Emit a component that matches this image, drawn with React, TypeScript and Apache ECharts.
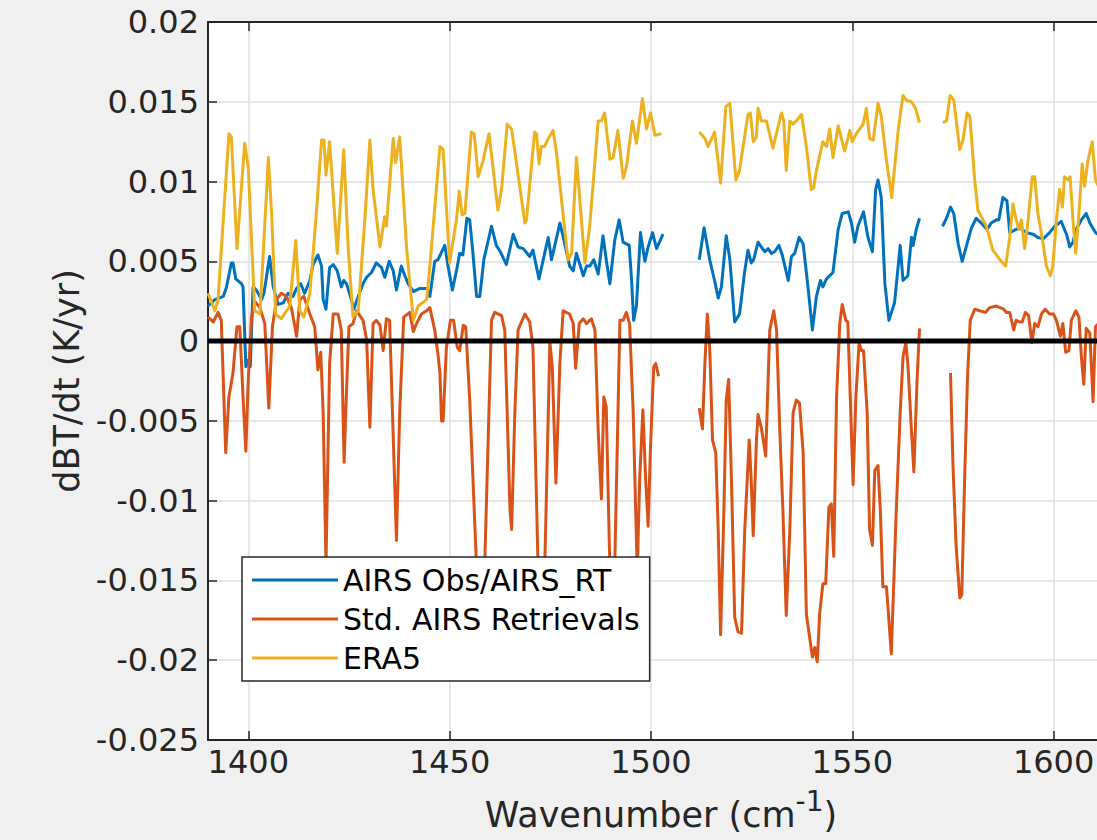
import React, { useEffect, useRef } from "react";
import * as echarts from "echarts";

// ---------- data (wavenumber in cm^-1, trend in K/yr); '-' marks a gap ----------
const obsWn = [
  1390.0, 1391.7, 1393.8, 1394.6, 1395.8, 1396.2, 1396.9, 1398.3, 1398.7, 1399.4, 1400.0, 1400.5,
  1401.2, 1402.0, 1403.3, 1403.9, 1405.3, 1406.2, 1407.4, 1408.7, 1409.9, 1411.1, 1412.0, 1413.0,
  1414.0, 1415.3, 1416.1, 1417.3, 1418.2, 1418.6, 1419.3, 1420.2, 1421.1, 1422.1, 1423.1, 1423.7,
  1424.4, 1425.6, 1426.2, 1427.3, 1428.5, 1429.4, 1430.6, 1431.8, 1433.1, 1433.9, 1435.0, 1436.0,
  1436.8, 1438.0, 1438.9, 1439.7, 1441.0, 1442.6, 1444.3, 1445.1, 1446.3, 1447.1, 1448.8, 1449.6,
  1450.7, 1451.7, 1452.5, 1453.3, 1454.3, 1455.0, 1455.8, 1456.7, 1457.5, 1458.5, 1460.4, 1461.6,
  1462.6, 1464.1, 1465.8, 1467.0, 1468.3, 1469.9, 1470.7, 1472.2, 1473.6, 1474.5, 1475.3, 1477.4,
  1478.6, 1479.8, 1480.7, 1481.5, 1483.2, 1484.0, 1484.8, 1485.8, 1486.9, 1488.1, 1488.9, 1489.8,
  1491.0, 1492.1, 1493.1, 1494.6, 1495.2, 1495.7, 1496.4, 1497.4, 1498.5, 1499.3, 1500.4, 1501.4,
  1503.0, 1507.0,
  1512.0, 1513.2, 1514.6, 1515.8, 1516.7, 1517.5, 1518.7, 1519.6, 1520.8, 1522.0, 1523.3, 1524.1,
  1524.9, 1525.5, 1526.6, 1527.4, 1528.3, 1529.1, 1529.9, 1530.7, 1531.8, 1532.6, 1534.1, 1534.9,
  1535.7, 1536.8, 1537.8, 1539.0, 1540.1, 1541.1, 1542.1, 1542.7, 1543.6, 1545.2, 1546.5, 1547.5,
  1549.0, 1549.8, 1550.6, 1551.4, 1552.8, 1553.9, 1555.0, 1555.8, 1556.4, 1557.2, 1558.1, 1559.1,
  1560.5, 1561.4, 1561.9, 1562.6, 1563.8, 1564.7, 1565.1, 1565.9, 1566.7, 1569.5,
  1572.4, 1573.4, 1574.4, 1575.2, 1576.3, 1577.3, 1578.5, 1579.6, 1580.8, 1582.0, 1583.5, 1584.5,
  1585.8, 1586.4, 1587.4, 1588.4, 1589.1, 1590.7, 1591.6, 1593.2, 1594.9, 1596.1, 1597.4, 1599.0,
  1600.3, 1601.9, 1603.2, 1604.0, 1604.8, 1605.6, 1606.9, 1608.1, 1609.0, 1610.4, 1611.5,
];
const obsVal: (number | string)[] = [
  0.0022, 0.0026, 0.0028, 0.0034, 0.0049, 0.0049, 0.0039, 0.0036, 0.0034, -0.0016, -0.0012, -0.0016,
  0.0034, 0.0032, 0.0026, 0.003, 0.0053, 0.0034, 0.0023, 0.0024, 0.003, 0.0028, 0.0033, 0.0036,
  0.003, 0.0038, 0.0048, 0.0054, 0.0047, 0.0026, 0.002, 0.0046, 0.0048, 0.0044, 0.0034, 0.0038,
  0.0036, 0.0026, 0.002, 0.0028, 0.0036, 0.004, 0.0043, 0.0049, 0.0046, 0.004, 0.005, 0.0044,
  0.0032, 0.0047, 0.0041, 0.0036, 0.0031, 0.0033, 0.0033, 0.0028, 0.005, 0.0051, 0.006, 0.0047,
  0.0032, 0.0044, 0.0055, 0.0054, 0.0077, 0.0076, 0.0055, 0.0028, 0.0028, 0.0051, 0.0072, 0.006,
  0.0056, 0.0048, 0.0067, 0.0059, 0.0058, 0.0053, 0.0057, 0.0039, 0.0055, 0.0065, 0.0051, 0.0074,
  0.0061, 0.0047, 0.0044, 0.0055, 0.0041, 0.0047, 0.0047, 0.0051, 0.0042, 0.0066, 0.0051, 0.0036,
  0.0063, 0.0076, 0.0062, 0.006, 0.0038, 0.0013, 0.0022, 0.0068, 0.005, 0.0059, 0.0068, 0.0058,
  0.0067, "-",
  0.0051, 0.0071, 0.0051, 0.0038, 0.0027, 0.0034, 0.0066, 0.0051, 0.0012, 0.0017, 0.0044, 0.0057,
  0.0049, 0.0051, 0.0062, 0.0059, 0.0056, 0.0058, 0.0055, 0.0056, 0.006, 0.0054, 0.0038, 0.0053,
  0.0055, 0.0065, 0.0061, 0.0034, 0.0007, 0.0028, 0.0038, 0.0034, 0.0039, 0.0043, 0.007, 0.008,
  0.0081, 0.0074, 0.0062, 0.0072, 0.0081, 0.0065, 0.0056, 0.0095, 0.0101, 0.009, 0.0036, 0.0013,
  0.0024, 0.0047, 0.006, 0.0038, 0.0041, 0.0065, 0.006, 0.007, 0.0077, "-",
  0.0072, 0.0077, 0.0084, 0.008, 0.0061, 0.005, 0.0061, 0.0071, 0.0077, 0.0074, 0.007, 0.0074,
  0.0076, 0.0076, 0.009, 0.0088, 0.0068, 0.007, 0.0071, 0.0068, 0.0067, 0.0065, 0.0064, 0.0068,
  0.0072, 0.0075, 0.0067, 0.0059, 0.0062, 0.007, 0.0076, 0.008, 0.0074, 0.0068, 0.0066,
];

const retWn = [
  1390.0, 1391.3, 1392.5, 1393.3, 1394.4, 1395.2, 1396.2, 1397.2, 1397.9, 1398.7, 1399.4, 1400.0,
  1400.8, 1401.6, 1402.9, 1404.1, 1405.1, 1406.0, 1407.0, 1408.2, 1409.5, 1410.7, 1412.0, 1412.8,
  1413.8, 1415.3, 1416.5, 1417.3, 1418.0, 1418.6, 1419.3, 1420.2, 1421.1, 1422.3, 1423.1, 1423.8,
  1424.4, 1425.0, 1426.0, 1426.9, 1428.5, 1429.4, 1430.2, 1431.0, 1431.8, 1432.7, 1433.5, 1434.3,
  1435.1, 1436.8, 1437.6, 1438.6, 1440.1, 1441.0, 1441.8, 1443.0, 1444.3, 1445.1, 1446.3, 1447.1,
  1447.6, 1448.0, 1448.4, 1449.2, 1450.2, 1451.0, 1451.9, 1452.5, 1453.4, 1454.0, 1455.0, 1456.7,
  1457.3, 1458.0, 1458.7, 1460.4, 1461.2, 1462.9, 1463.7, 1465.0, 1465.4, 1466.2, 1467.0, 1468.7,
  1469.9, 1470.7, 1472.0, 1472.6, 1473.1, 1473.6, 1474.9, 1475.5, 1476.4, 1477.4, 1478.2, 1479.8,
  1480.7, 1481.3, 1482.2, 1483.2, 1484.0, 1485.2, 1486.1, 1486.9, 1487.7, 1488.3, 1488.9, 1489.8,
  1490.3, 1490.6, 1491.0, 1492.3, 1493.1, 1493.9, 1494.7, 1495.6, 1496.6, 1497.2, 1498.0, 1498.7,
  1499.3, 1499.9, 1500.7, 1501.2, 1501.9, 1507.0,
  1512.0, 1512.8, 1513.4, 1514.0, 1514.6, 1515.3, 1516.1, 1516.7, 1517.3, 1518.1, 1518.7, 1519.3,
  1520.0, 1520.8, 1521.6, 1522.5, 1523.3, 1524.4, 1524.9, 1525.4, 1526.2, 1526.6, 1527.4, 1528.5,
  1529.5, 1530.5, 1531.2, 1532.0, 1532.8, 1533.6, 1534.5, 1535.3, 1536.1, 1536.9, 1537.8, 1538.6,
  1540.1, 1540.7, 1541.3, 1541.9, 1542.7, 1543.4, 1544.2, 1544.8, 1545.4, 1546.1, 1546.9, 1547.5,
  1548.4, 1548.9, 1549.5, 1550.2, 1550.9, 1551.7, 1552.3, 1552.8, 1553.7, 1554.3, 1555.0, 1555.6,
  1556.4, 1557.0, 1557.6, 1558.5, 1559.7, 1560.9, 1561.9, 1562.6, 1563.3, 1563.8, 1564.7, 1565.3,
  1566.1, 1566.7, 1570.0,
  1574.4, 1575.0, 1575.8, 1576.7, 1577.2, 1577.9, 1578.6, 1579.3, 1580.4, 1581.6, 1583.1, 1584.1,
  1585.8, 1587.6, 1588.3, 1589.1, 1590.1, 1590.7, 1591.6, 1592.2, 1593.0, 1593.8, 1594.6, 1595.3,
  1596.1, 1597.0, 1597.9, 1599.0, 1600.0, 1600.7, 1601.7, 1602.3, 1603.0, 1603.8, 1604.4, 1605.5,
  1606.3, 1606.9, 1607.5, 1608.1, 1609.0, 1609.8, 1610.4, 1611.5,
];
const retVal: (number | string)[] = [
  0.0015, 0.0012, 0.0018, 0.0013, -0.007, -0.0035, -0.002, 0.0009, 0.0009, -0.0035, -0.0069, -0.0024,
  0.0015, 0.0025, 0.0021, 0.0011, -0.0042, 0.0009, 0.0026, 0.003, 0.0028, 0.0021, 0.0003, 0.0026,
  0.0028, 0.0017, 0.0009, -0.0018, -0.0007, -0.0045, -0.014, -0.0014, 0.0017, 0.0017, 0.0007, -0.0076,
  -0.0031, 0.0009, 0.0011, 0.0019, 0.0013, 0.0001, -0.0054, 0.0011, 0.0013, 0.001, -0.0006, 0.0014,
  0.0013, -0.0125, -0.0045, 0.0015, 0.0018, 0.0006, 0.0011, 0.0017, 0.0019, 0.0021, 0.0007, -0.0008,
  -0.002, -0.005, -0.005, -0.0004, 0.0013, 0.0013, -0.0004, -0.0006, 0.001, 0.0009, -0.0037, -0.0142,
  -0.0185, -0.019, -0.0142, 0.0013, 0.0018, 0.0016, 0.0007, -0.0106, -0.0118, -0.0045, 0.0007, 0.0017,
  0.0012, -0.0004, -0.0145, -0.018, -0.018, -0.0145, -0.0001, -0.0016, -0.0089, -0.0013, 0.0019, 0.0017,
  0.0011, -0.0017, 0.0011, 0.0014, 0.0011, 0.0014, 0.0007, -0.0056, -0.0099, -0.0035, -0.0041, -0.0142,
  -0.0178, -0.018, -0.0142, 0.0013, 0.0013, 0.0018, 0.0011, -0.0045, -0.0145, -0.0087, -0.0043, -0.0087,
  -0.0116, -0.0066, -0.0016, -0.0014, -0.0022, "-",
  -0.0042, -0.0055, -0.0014, 0.0017, -0.0004, -0.0062, -0.007, -0.0118, -0.0184, -0.0108, -0.0037, -0.0024,
  -0.0087, -0.0173, -0.0182, -0.0183, -0.0118, -0.0062, -0.0087, -0.0122, -0.0062, -0.0046, -0.0054, -0.0072,
  0.0007, 0.0019, 0.0007, -0.0056, -0.0108, -0.0172, -0.0118, -0.0045, -0.0037, -0.0039, -0.007, -0.0171,
  -0.0198, -0.0192, -0.0201, -0.0171, -0.0152, -0.0152, -0.0104, -0.0102, -0.0135, -0.0035, 0.0011, 0.0023,
  0.0013, 0.0012, -0.0035, -0.009, -0.0035, -0.0001, -0.0006, -0.0006, -0.0045, -0.0118, -0.0128, -0.0081,
  -0.0078, -0.0108, -0.0154, -0.0154, -0.0196, -0.0108, -0.0045, -0.001, -0.0001, -0.0014, -0.0056, -0.0082,
  -0.0024, 0.0008, "-",
  -0.002, -0.0077, -0.0129, -0.0161, -0.0159, -0.0087, -0.0024, 0.0013, 0.002, 0.0019, 0.0018, 0.0021,
  0.0022, 0.002, 0.0018, 0.0018, 0.0007, 0.0013, 0.0012, 0.0012, 0.0018, 0.0016, -0.0001, 0.0011,
  0.0009, 0.0017, 0.002, 0.0017, 0.0017, 0.0013, 0.0003, 0.0011, -0.0007, -0.0006, 0.0013, 0.0019,
  0.0015, -0.001, -0.0027, 0.0008, 0.0005, -0.0038, 0.0009, 0.0012,
];

const eraWn = [
  1390.0, 1391.7, 1392.5, 1395.2, 1395.8, 1397.2, 1399.1, 1400.0, 1401.6, 1402.9, 1405.0, 1405.8,
  1406.8, 1408.2, 1410.3, 1411.8, 1412.8, 1413.8, 1415.3, 1416.9, 1418.2, 1418.8, 1419.3, 1420.2,
  1422.1, 1423.7, 1424.8, 1426.0, 1427.3, 1429.0, 1430.2, 1431.0, 1432.7, 1433.9, 1434.3, 1436.0,
  1436.6, 1437.6, 1439.3, 1441.0, 1442.2, 1444.3, 1445.1, 1447.6, 1448.4, 1450.0, 1451.7, 1452.4,
  1453.1, 1453.8, 1455.4, 1456.1, 1457.1, 1458.3, 1459.8, 1462.0, 1462.9, 1464.3, 1465.4, 1468.7,
  1469.1, 1471.1, 1471.6, 1472.2, 1472.8, 1473.6, 1474.5, 1475.7, 1476.5, 1479.4, 1480.3, 1481.5,
  1483.6, 1484.8, 1486.9, 1487.7, 1488.5, 1489.8, 1490.6, 1491.8, 1493.1, 1493.9, 1495.4, 1496.4,
  1497.9, 1498.9, 1499.9, 1501.0, 1502.6, 1507.0,
  1512.0, 1513.4, 1514.2, 1515.8, 1517.3, 1518.6, 1519.6, 1521.1, 1522.0, 1524.1, 1524.7, 1525.4,
  1526.2, 1526.6, 1527.4, 1528.7, 1530.3, 1532.4, 1533.0, 1533.6, 1534.5, 1535.3, 1536.1, 1537.4,
  1538.6, 1539.8, 1540.4, 1541.1, 1542.7, 1543.6, 1544.4, 1545.2, 1546.5, 1548.1, 1549.4, 1550.0,
  1551.0, 1552.7, 1553.5, 1554.3, 1555.2, 1556.4, 1557.2, 1558.4, 1559.8, 1561.4, 1562.6, 1563.4,
  1564.7, 1565.7, 1566.7, 1569.5,
  1572.5, 1573.4, 1574.3, 1575.2, 1576.7, 1577.5, 1578.5, 1579.2, 1580.4, 1581.2, 1583.3, 1584.9,
  1587.0, 1588.1, 1589.1, 1589.9, 1590.7, 1591.4, 1592.0, 1592.8, 1593.6, 1594.7, 1595.3, 1596.1,
  1597.4, 1598.2, 1599.2, 1599.8, 1600.7, 1601.5, 1602.2, 1602.7, 1603.6, 1604.1, 1604.8, 1605.5,
  1606.3, 1607.1, 1607.7, 1608.5, 1609.6, 1610.4, 1611.5,
];
const eraVal: (number | string)[] = [
  0.003, 0.0019, 0.0026, 0.013, 0.0128, 0.0058, 0.0124, 0.0109, 0.0019, 0.0017, 0.0115, 0.008,
  0.0017, 0.0014, 0.0022, 0.0063, 0.0019, 0.0015, 0.003, 0.008, 0.0126, 0.0126, 0.0104, 0.0125,
  0.0055, 0.012, 0.0059, 0.0015, 0.0019, 0.0078, 0.0126, 0.0095, 0.0059, 0.0078, 0.0072, 0.0127,
  0.0112, 0.0128, 0.0059, 0.0013, 0.0022, 0.0026, 0.0047, 0.0122, 0.012, 0.0049, 0.0076, 0.0094,
  0.0079, 0.008, 0.0131, 0.013, 0.0103, 0.0113, 0.013, 0.0082, 0.0095, 0.0136, 0.0133, 0.0074,
  0.0076, 0.0131, 0.013, 0.0111, 0.0122, 0.0122, 0.0127, 0.0132, 0.0119, 0.0051, 0.0055, 0.0115,
  0.0049, 0.0072, 0.0138, 0.0138, 0.0143, 0.0114, 0.0115, 0.0132, 0.0102, 0.0109, 0.0138, 0.0124,
  0.0152, 0.0133, 0.0143, 0.0129, 0.013, "-",
  0.0131, 0.0127, 0.0122, 0.0131, 0.0099, 0.0147, 0.0149, 0.0101, 0.0107, 0.0142, 0.0143, 0.0125,
  0.0128, 0.0146, 0.0138, 0.0138, 0.0121, 0.0143, 0.0138, 0.0107, 0.0138, 0.0136, 0.0138, 0.0142,
  0.0122, 0.0095, 0.0096, 0.0107, 0.0125, 0.0122, 0.0133, 0.0115, 0.0135, 0.0119, 0.0132, 0.0125,
  0.013, 0.0136, 0.0146, 0.0127, 0.0126, 0.0149, 0.0141, 0.0115, 0.009, 0.0132, 0.0154, 0.0151,
  0.015, 0.0146, 0.0137, "-",
  0.0137, 0.0138, 0.0154, 0.0151, 0.012, 0.0126, 0.0143, 0.0141, 0.0101, 0.0082, 0.0072, 0.0057,
  0.005, 0.0047, 0.0065, 0.0086, 0.0076, 0.007, 0.0076, 0.0058, 0.0074, 0.0103, 0.0103, 0.008,
  0.0061, 0.0047, 0.0041, 0.0047, 0.0076, 0.0095, 0.0084, 0.0103, 0.0101, 0.0103, 0.0076, 0.0055,
  0.008, 0.0111, 0.0097, 0.0113, 0.0125, 0.0101, 0.0095,
];

const seriesNames = ["AIRS Obs/AIRS_RT", "Std. AIRS Retrievals", "ERA5"];
const seriesColors = ["#0072BD", "#D95319", "#EDB120"];
const xRange = [1390, 1615];
const yRange = [-0.025, 0.02];
const yStep = 0.005;

const FONT = "DejaVu Sans";
const AX = "#262626";

function pairs(xs: number[], ys: (number | string)[]) {
  return xs.map((x, i) => [x, ys[i]]);
}

export default function App() {
  const ref = useRef<HTMLDivElement>(null);
  useEffect(() => {
    document.body.style.margin = "0";
    document.body.style.background = "#f0f0f0";
    const chart = echarts.init(ref.current!, null, { renderer: "svg" });
    const datasets = [pairs(obsWn, obsVal), pairs(retWn, retVal), pairs(eraWn, eraVal)];
    const axisCommon = {
      type: "value" as const,
      min: xRange[0],
      max: xRange[1],
      minInterval: 50,
      maxInterval: 50,
      axisLine: { show: true, onZero: false, lineStyle: { color: AX, width: 2 } },
      axisTick: { show: true, inside: true, length: 9, lineStyle: { color: AX, width: 1.5 } },
    };
    chart.setOption({
      animation: false,
      backgroundColor: "#f0f0f0",
      grid: {
        left: 208,
        top: 22,
        bottom: 100,
        right: -17,
        outerBoundsMode: "none",
        containLabel: false,
        show: true,
        backgroundColor: "#ffffff",
        borderWidth: 0,
      },
      legend: {
        data: seriesNames,
        orient: "vertical",
        left: 242,
        top: 557,
        padding: [8, 10, 8, 10],
        icon: "rect",
        itemWidth: 86,
        itemHeight: 3,
        itemGap: 9,
        backgroundColor: "#ffffff",
        borderColor: AX,
        borderWidth: 1.5,
        borderRadius: 0,
        selectedMode: false,
        textStyle: { fontFamily: FONT, fontSize: 30, color: "#000", lineHeight: 30 },
      },
      xAxis: [
        {
          ...axisCommon,
          position: "bottom",
          name: "{a|Wavenumber (cm}{s|-1}{a|)}",
          nameLocation: "middle",
          nameGap: 47,
          nameTextStyle: {
            color: AX,
            fontFamily: FONT,
            rich: {
              a: { fontFamily: FONT, fontSize: 35, lineHeight: 56, color: AX },
              s: { fontFamily: FONT, fontSize: 28, lineHeight: 28, verticalAlign: "top", color: AX },
            },
          },
          axisLabel: {
            show: true,
            showMinLabel: false,
            showMaxLabel: false,
            margin: 6,
            color: AX,
            fontFamily: FONT,
            fontSize: 32,
            formatter: (v: number) => String(v),
          },
          splitLine: { show: true, lineStyle: { color: "#dfdfdf", width: 1.5 } },
        },
        {
          ...axisCommon,
          position: "top",
          axisLabel: { show: false },
          splitLine: { show: false },
        },
      ],
      yAxis: {
        type: "value",
        min: yRange[0],
        max: yRange[1],
        interval: yStep,
        name: "dBT/dt (K/yr)",
        nameLocation: "middle",
        nameGap: 122,
        nameTextStyle: { color: AX, fontFamily: FONT, fontSize: 35 },
        axisLine: { show: true, onZero: false, lineStyle: { color: AX, width: 2 } },
        axisTick: { show: true, inside: true, length: 9, lineStyle: { color: AX, width: 1.5 } },
        axisLabel: {
          margin: 9,
          color: AX,
          fontFamily: FONT,
          fontSize: 32,
          formatter: (v: number) => String(Math.round(v * 1000) / 1000 + 0),
        },
        splitLine: { show: true, lineStyle: { color: "#dfdfdf", width: 1.5 } },
      },
      series: [
        ...seriesNames.map((name, i) => ({
          name,
          type: "line",
          data: datasets[i],
          symbol: "none",
          showSymbol: false,
          connectNulls: false,
          color: seriesColors[i],
          itemStyle: { color: seriesColors[i] },
          lineStyle: { color: seriesColors[i], width: 3, join: "round" },
          z: 2 + i,
          silent: true,
        })),
        {
          name: "zero",
          type: "line",
          data: [
            [xRange[0], 0],
            [xRange[1], 0],
          ],
          symbol: "none",
          color: "#000",
          lineStyle: { color: "#000", width: 5 },
          z: 10,
          silent: true,
        },
      ],
    });
    return () => chart.dispose();
  }, []);
  return (
    <div
      ref={ref}
      style={{ position: "absolute", left: 0, top: 0, width: 1097, height: 840, background: "#f0f0f0" }}
    />
  );
}
